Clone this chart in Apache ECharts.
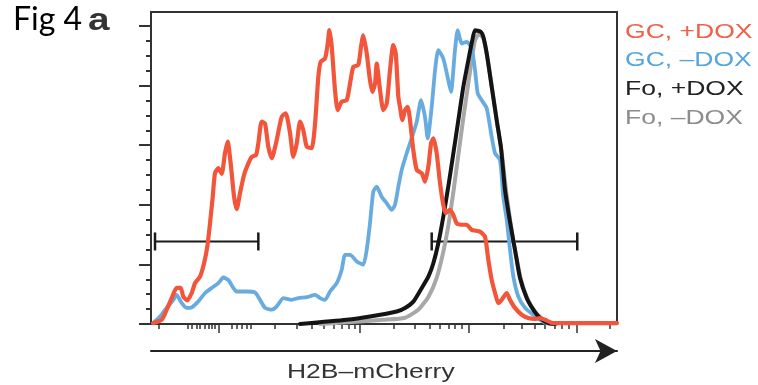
<!DOCTYPE html>
<html>
<head>
<meta charset="utf-8">
<script src="https://cdn.jsdelivr.net/npm/echarts@6.0.0/dist/echarts.min.js"></script>
<style>
  html, body { margin: 0; padding: 0; background: #fff; }
  #chart { width: 758px; height: 385px; }
</style>
</head>
<body>
<div id="chart"></div>
<script>
// x is in display decades of the H2B-mCherry axis (biexponential near zero)
const legendNames = ['GC, +DOX', 'GC, –DOX', 'Fo, +DOX', 'Fo, –DOX'];
const lineColors = ['#f2553a', '#67abe0', '#141414', '#a8a8a8'];
const textColors = ['#f0604a', '#55a6de', '#222222', '#8c8c8c'];

const gcPlusDox = [
  [0.091, 0.3], [0.169, 1.4], [0.215, 4.8], [0.261, 8.7], [0.307, 12.1], [0.344, 12.1],
  [0.368, 9.2], [0.405, 7.9], [0.446, 10.4], [0.476, 13.7], [0.523, 15.9], [0.560, 20.4],
  [0.590, 26.0], [0.615, 33.8], [0.640, 42.7], [0.661, 50.6], [0.692, 52.3], [0.723, 50.4],
  [0.753, 57.3], [0.778, 61.2], [0.809, 52.8], [0.837, 42.7], [0.861, 38.5], [0.892, 43.9],
  [0.929, 50.0], [0.969, 53.9], [1.000, 56.1], [1.040, 56.7], [1.061, 60.6], [1.092, 67.9],
  [1.123, 67.3], [1.153, 59.5], [1.185, 55.6], [1.224, 60.6], [1.277, 69.5], [1.314, 70.7],
  [1.354, 64.0], [1.384, 56.1], [1.416, 60.6], [1.446, 67.9], [1.476, 65.1], [1.508, 59.5],
  [1.554, 59.0], [1.585, 67.3], [1.615, 82.9], [1.637, 88.0], [1.677, 89.1], [1.702, 94.1],
  [1.717, 98.6], [1.739, 93.0], [1.769, 78.5], [1.794, 71.8], [1.831, 74.6], [1.877, 75.1],
  [1.908, 80.7], [1.938, 86.3], [1.984, 86.9], [2.009, 93.0], [2.030, 96.9], [2.062, 90.8],
  [2.092, 81.8], [2.114, 77.9], [2.139, 80.7], [2.154, 87.4], [2.185, 78.5], [2.215, 71.8],
  [2.247, 74.0], [2.277, 85.2], [2.307, 93.6], [2.330, 90.8], [2.354, 76.2], [2.369, 72.9],
  [2.391, 68.4], [2.416, 71.8], [2.440, 72.9], [2.462, 68.4], [2.492, 58.4], [2.524, 51.7],
  [2.570, 50.6], [2.600, 47.8], [2.631, 52.8], [2.656, 60.6], [2.677, 62.3], [2.708, 57.3],
  [2.739, 47.2], [2.769, 40.0], [2.791, 37.2], [2.831, 38.3], [2.862, 36.6], [2.893, 33.8],
  [2.939, 33.3], [2.985, 33.3], [3.031, 31.6], [3.108, 31.0], [3.154, 29.3], [3.185, 21.5],
  [3.216, 14.8], [3.247, 10.4], [3.277, 7.0], [3.308, 8.1], [3.355, 10.4], [3.385, 8.1],
  [3.431, 5.4], [3.493, 3.1], [3.554, 2.0], [3.616, 1.7], [3.662, 2.0], [3.708, 1.4],
  [3.785, 0.3], [4.373, 0.3]
];

const gcMinusDox = [
  [0.091, 0.3], [0.153, 2.5], [0.215, 5.4], [0.276, 8.1], [0.307, 9.8], [0.354, 7.0],
  [0.400, 5.4], [0.446, 5.6], [0.507, 7.6], [0.569, 10.4], [0.631, 12.1], [0.692, 13.7],
  [0.738, 15.6], [0.784, 14.8], [0.830, 12.1], [0.861, 10.9], [0.954, 10.9], [1.030, 10.6],
  [1.077, 8.1], [1.123, 5.4], [1.185, 4.8], [1.231, 5.9], [1.292, 8.7], [1.369, 8.1],
  [1.430, 8.7], [1.508, 9.0], [1.585, 9.8], [1.631, 8.7], [1.677, 8.1], [1.723, 10.9],
  [1.785, 13.7], [1.831, 18.2], [1.862, 23.2], [1.908, 23.2], [1.970, 21.0], [2.030, 19.9],
  [2.062, 24.9], [2.092, 33.8], [2.123, 44.4], [2.154, 46.1], [2.200, 42.7], [2.247, 40.5],
  [2.293, 38.3], [2.323, 40.0], [2.354, 46.1], [2.385, 51.7], [2.431, 57.3], [2.477, 62.3],
  [2.524, 67.9], [2.563, 75.1], [2.600, 69.5], [2.625, 62.3], [2.662, 72.9], [2.693, 85.2],
  [2.723, 91.9], [2.769, 89.1], [2.815, 81.8], [2.840, 77.9], [2.877, 91.9], [2.902, 98.6],
  [2.939, 94.1], [2.985, 94.7], [3.031, 92.5], [3.062, 85.2], [3.087, 77.4], [3.124, 75.1],
  [3.170, 72.4], [3.216, 62.8], [3.247, 57.3], [3.293, 55.0], [3.323, 42.7], [3.355, 34.9],
  [3.385, 24.9], [3.416, 15.9], [3.462, 9.2], [3.524, 5.4], [3.600, 3.1], [3.662, 1.4],
  [3.724, 0.3], [3.800, 0]
];

const foPlusDox = [
  [1.446, 0], [1.877, 1.4], [2.092, 2.5], [2.339, 4.2], [2.416, 5.4], [2.492, 7.5],
  [2.570, 12.1], [2.631, 15.9], [2.677, 20.4], [2.723, 27.1], [2.769, 36.0], [2.815, 46.1],
  [2.862, 57.3], [2.908, 68.4], [2.954, 79.6], [3.000, 88.5], [3.037, 95.2], [3.062, 98.6],
  [3.117, 98.0], [3.139, 96.3], [3.170, 90.8], [3.216, 79.6], [3.262, 68.4], [3.302, 59.1],
  [3.339, 45.0], [3.385, 34.3], [3.431, 24.9], [3.477, 15.5], [3.539, 8.7], [3.600, 4.8],
  [3.662, 2.0], [3.739, 0.3], [3.800, 0]
];

const foMinusDox = [
  [1.631, 0], [1.846, 0.5], [2.215, 1.4], [2.416, 2.1], [2.538, 4.8], [2.631, 9.1],
  [2.708, 15.5], [2.769, 24.2], [2.815, 32.9], [2.862, 44.3], [2.908, 56.7], [2.954, 69.1],
  [3.000, 80.8], [3.031, 88.5], [3.062, 95.2], [3.099, 97.3], [3.139, 95.9], [3.172, 90.2],
  [3.219, 79.2], [3.265, 67.8], [3.311, 56.7], [3.348, 45.0], [3.394, 32.9], [3.440, 23.2],
  [3.487, 14.8], [3.551, 8.1], [3.616, 4.1], [3.680, 1.8], [3.754, 0.3], [3.810, 0]
];

// gates
const gateLow = [[0.107, 27.7], [1.061, 27.7]];
const gateHigh = [[2.662, 27.7], [4.006, 27.7]];

// tick positions
const xMajorTicks = [0.698, 2, 3, 4];
const xMinorTicks = [
  0.138, 0.409, 0.446, 0.492, 0.523, 0.562, 0.599, 0.631, 0.661,
  0.815, 0.861, 0.908, 0.954, 0.994,
  1.215, 1.415, 1.554, 1.661, 1.754, 1.831, 1.892, 1.947,
  2.314, 2.508, 2.640, 2.739, 2.815, 2.877, 2.939,
  3.323, 3.493, 3.616, 3.708, 3.801, 3.862, 3.932,
  4.308
];
const yMajorTicks = [0, 20, 40, 60, 80, 100];
const yMinorTicks = [5, 10, 15, 25, 30, 35, 45, 50, 55, 65, 70, 75, 85, 90, 95];

const X_MIN = 0.07, X_MAX = 4.373, Y_MAX = 104.7;
const axisColor = '#333';

const chart = echarts.init(document.getElementById('chart'));

function tickAxis(values, len, showLine) {
  return {
    type: 'value',
    min: X_MIN,
    max: X_MAX,
    position: 'bottom',
    axisLine: { show: showLine, lineStyle: { color: axisColor, width: 2 } },
    axisTick: { show: true, customValues: values, length: len, lineStyle: { color: axisColor, width: 1.5 } },
    axisLabel: { show: false },
    splitLine: { show: false }
  };
}

function yTickAxis(values, len, showLine) {
  return {
    type: 'value',
    min: 0,
    max: Y_MAX,
    position: 'left',
    axisLine: { show: showLine, lineStyle: { color: axisColor, width: 2 } },
    axisTick: { show: true, customValues: values, length: len, lineStyle: { color: axisColor, width: 2 } },
    axisLabel: { show: false },
    splitLine: { show: false }
  };
}

function curve(name, data, color, width) {
  return {
    name: name,
    type: 'line',
    data: data,
    showSymbol: false,
    smooth: 0.2,
    lineStyle: { color: color, width: width, join: 'round', cap: 'round' },
    itemStyle: { color: color },
    z: 3
  };
}

function gate(data) {
  return {
    type: 'line',
    data: data,
    symbol: 'rect',
    symbolSize: [2.5, 18],
    showSymbol: true,
    lineStyle: { color: '#1a1a1a', width: 2 },
    itemStyle: { color: '#1a1a1a' },
    z: 2
  };
}

const legendTops = [32.5, 60.5, 89.2, 118.2];

const option = {
  animation: false,
  backgroundColor: '#fff',
  grid: {
    left: 151, top: 12, right: 141, bottom: 61,
    show: true, borderColor: axisColor, borderWidth: 2, backgroundColor: 'transparent'
  },
  xAxis: [
    tickAxis(xMinorTicks, 5, true),
    tickAxis(xMajorTicks, 9, false),
    {
      type: 'value',
      min: X_MIN,
      max: X_MAX,
      position: 'bottom',
      offset: 27,
      axisLine: {
        show: true,
        symbol: ['none', 'arrow'],
        symbolSize: [18, 22],
        lineStyle: { color: '#222', width: 2 }
      },
      axisTick: { show: false },
      axisLabel: { show: false },
      splitLine: { show: false }
    }
  ],
  yAxis: [
    yTickAxis(yMajorTicks, 12, true),
    yTickAxis(yMinorTicks, 5, false)
  ],
  series: [
    gate(gateLow),
    gate(gateHigh),
    curve(legendNames[3], foMinusDox, lineColors[3], 4),
    curve(legendNames[1], gcMinusDox, lineColors[1], 3.8),
    curve(legendNames[2], foPlusDox, lineColors[2], 4),
    curve(legendNames[0], gcPlusDox, lineColors[0], 4.2)
  ],
  graphic: [
    {
      type: 'text', x: 13, y: 20,
      style: { text: 'Fig 4', font: '32px Lato', fill: '#000', verticalAlign: 'middle', align: 'left' }
    },
    {
      type: 'text', x: 88, y: 21, scaleX: 1.25,
      style: { text: 'a', font: 'bold 31px "Liberation Sans"', fill: '#333', verticalAlign: 'middle', align: 'left' }
    },
    {
      type: 'text', x: 287, y: 372, scaleX: 1.26,
      style: { text: 'H2B–mCherry', font: '21px "Liberation Sans"', fill: '#333', verticalAlign: 'middle', align: 'left' }
    }
  ].concat(legendNames.map((name, i) => ({
    type: 'text', x: 625, y: legendTops[i], scaleX: 1.36,
    style: { text: name, font: '19.5px "Liberation Sans"', fill: textColors[i], verticalAlign: 'middle', align: 'left' }
  })))
};

chart.setOption(option);
</script>
</body>
</html>
